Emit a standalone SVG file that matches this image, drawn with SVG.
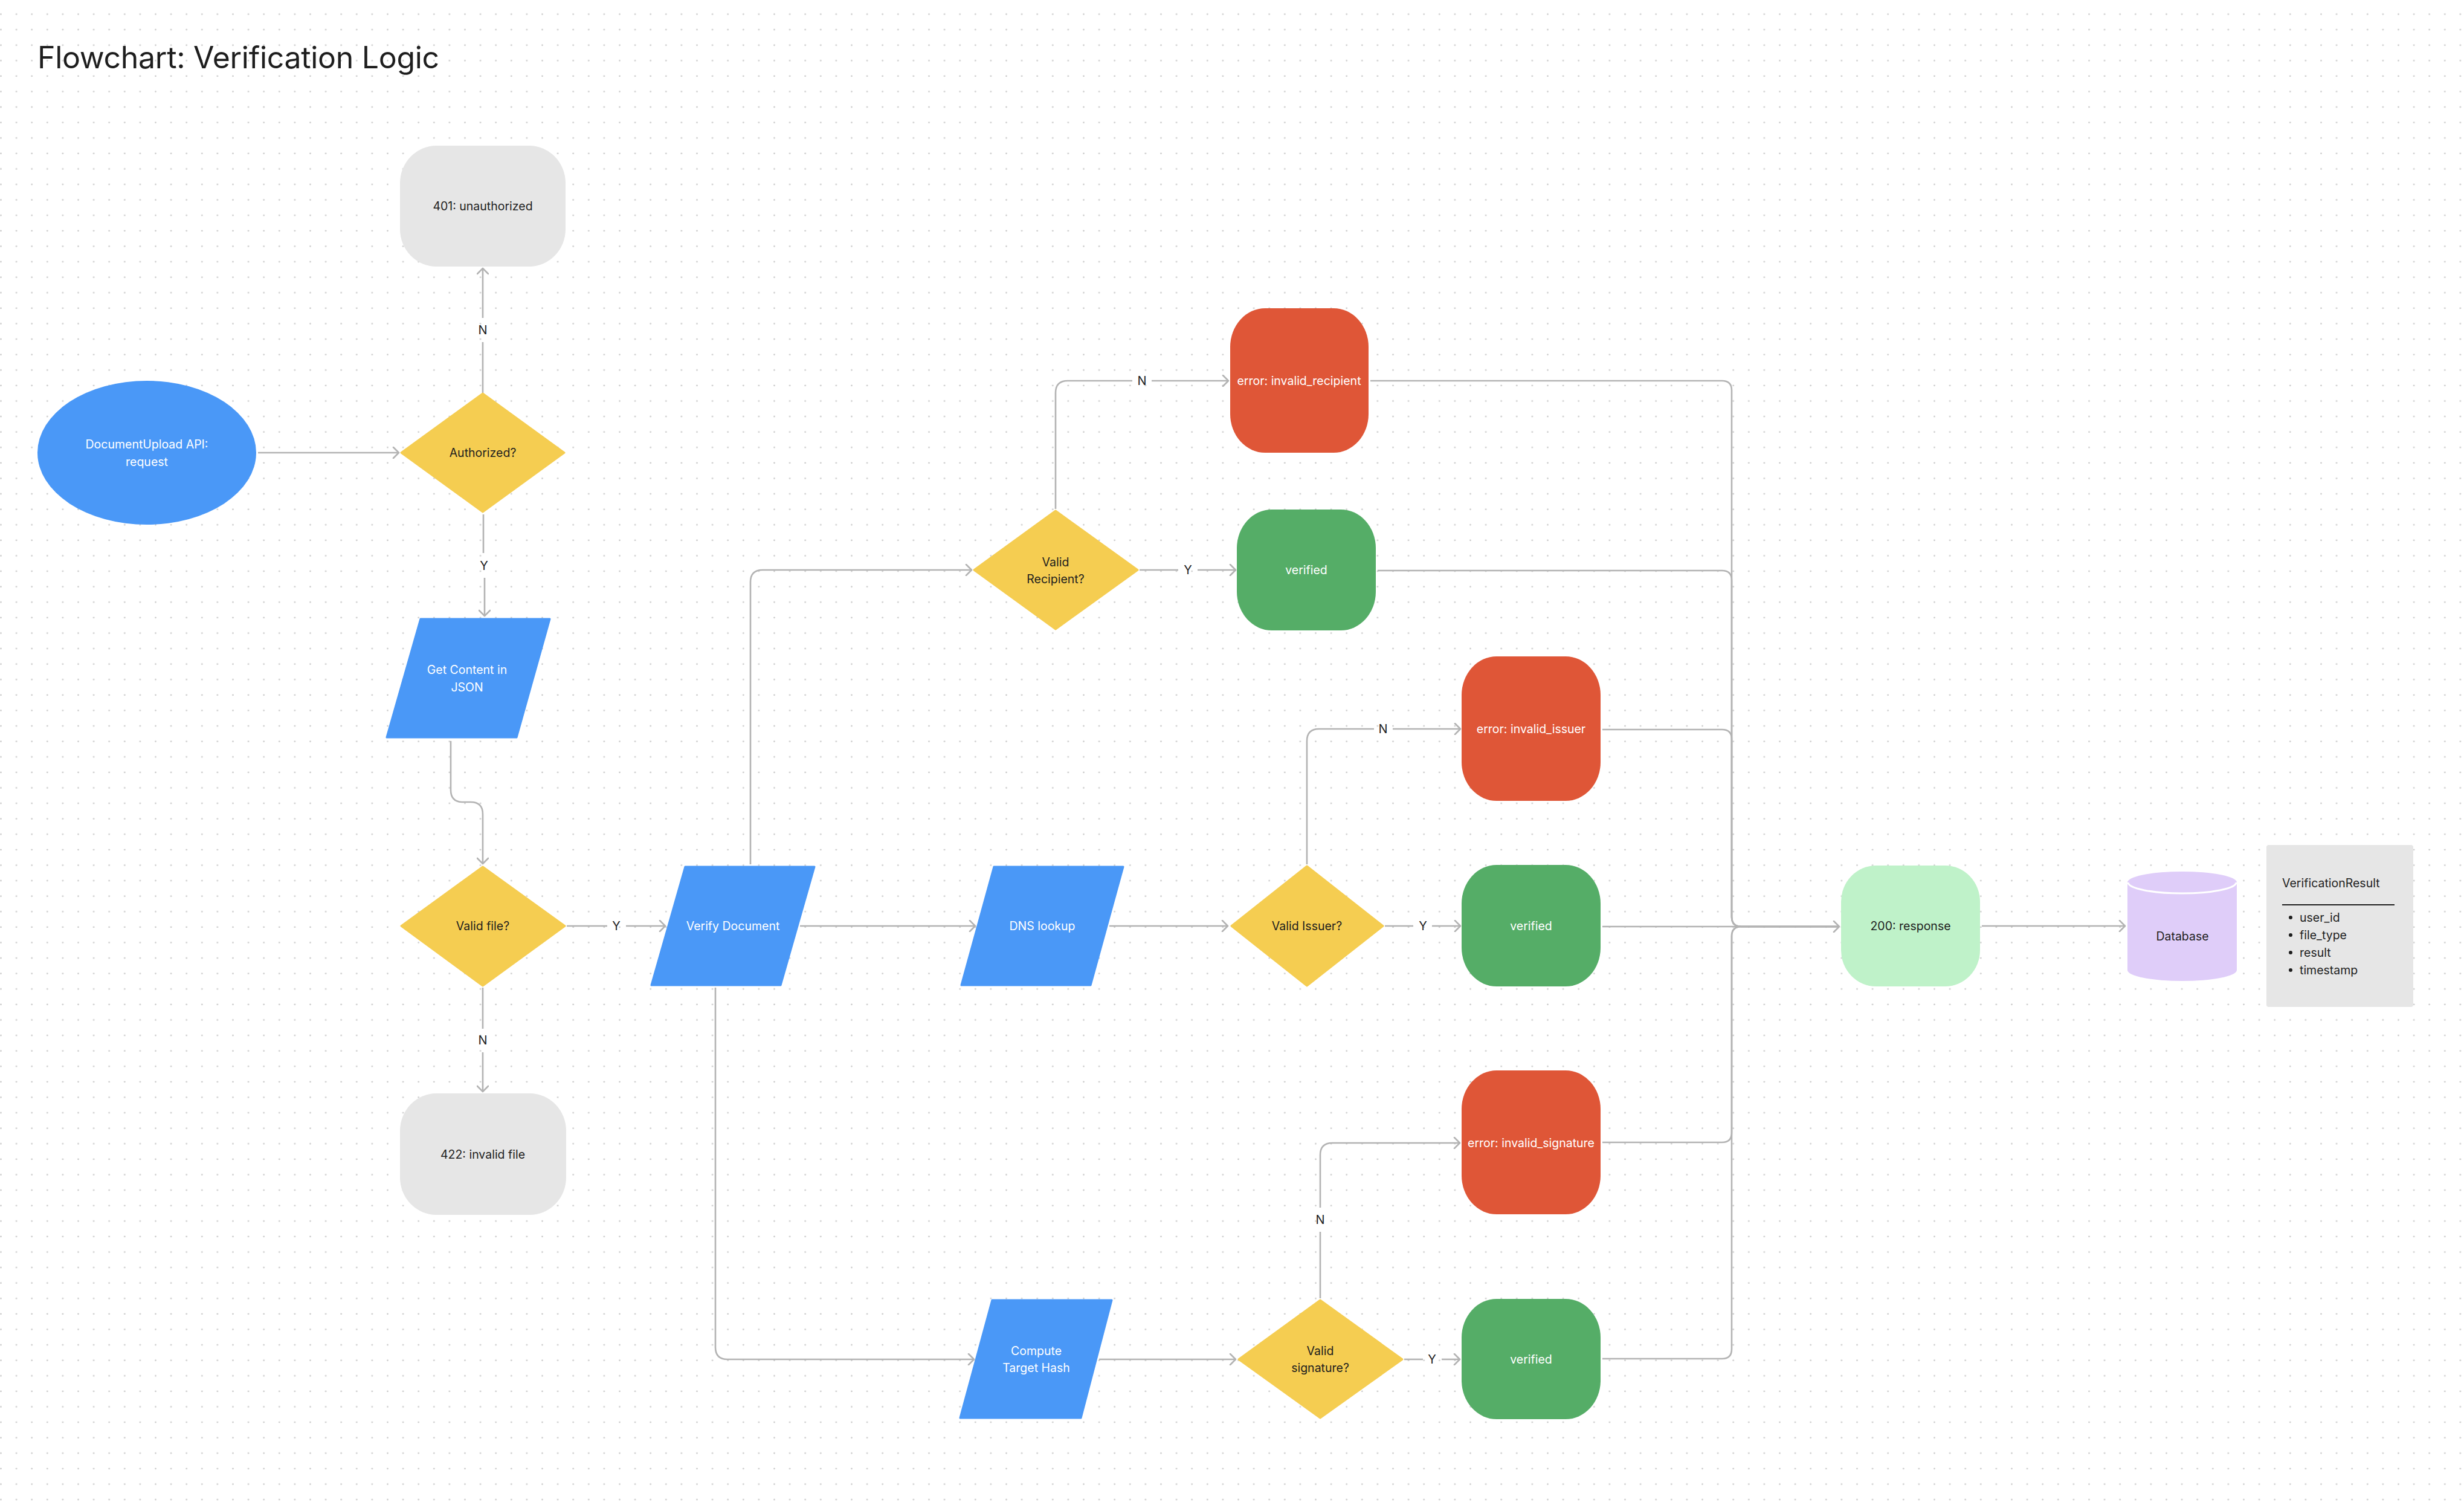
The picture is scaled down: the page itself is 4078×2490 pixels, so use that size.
<svg xmlns="http://www.w3.org/2000/svg" width="4078" height="2490" viewBox="0 0 4078 2490">
<defs>
<pattern id="dots" x="0" y="0" width="25.6" height="25.6" patternUnits="userSpaceOnUse">
<circle cx="1.5" cy="23.5" r="1.4" fill="#CACACA"/>
</pattern>
<marker id="arr" viewBox="0 0 20 20" refX="11" refY="10" markerWidth="20" markerHeight="20" markerUnits="userSpaceOnUse" orient="auto">
<path d="M2,1 L11,10 L2,19" fill="none" stroke="#B3B3B3" stroke-width="2.6" stroke-linecap="round" stroke-linejoin="round"/>
</marker>
<style>
.conn{fill:none;stroke:#B3B3B3;stroke-width:2.6}
.t{font-family:Inter,"Liberation Sans",sans-serif;font-size:19.5px;text-anchor:middle}
.dk{fill:#1E1E1E}
.wh{fill:#FFFFFF}
.lbl{font-family:Inter,"Liberation Sans",sans-serif;font-size:20px;text-anchor:middle;fill:#1E1E1E}
.blue{fill:#4A98F7;stroke:#4A98F7;stroke-width:3;stroke-linejoin:round}
.yel{fill:#F5CD51;stroke:#F5CD51;stroke-width:3;stroke-linejoin:round}
.red{fill:#DF5637}
.grn{fill:#55AD67}
.gry{fill:#E6E6E6}
.lgr{fill:#BFF2C9}
.pur{fill:#DFCDF9}
</style>
</defs>
<rect width="4078" height="2490" fill="#FFFFFF"/>
<rect width="4078" height="2490" fill="url(#dots)"/>

<text x="62" y="113" font-family="Inter,'Liberation Sans',sans-serif" font-size="50" fill="#1E1E1E" letter-spacing="-0.3">Flowchart: Verification Logic</text>

<g id="connectors">
<path class="conn" d="M427,749 H660" marker-end="url(#arr)"/>
<path class="conn" d="M799,650 V566"/>
<path class="conn" d="M799,526 V444" marker-end="url(#arr)"/>
<path class="conn" d="M800,851 V915"/>
<path class="conn" d="M802,956 V1019" marker-end="url(#arr)"/>
<path class="conn" d="M746,1226 V1307 Q746,1327 766,1327 H779 Q799,1327 799,1347 V1429" marker-end="url(#arr)"/>
<path class="conn" d="M799,1634 V1702"/>
<path class="conn" d="M799,1741 V1806" marker-end="url(#arr)"/>
<path class="conn" d="M938,1532 H1005"/>
<path class="conn" d="M1036,1532 H1101" marker-end="url(#arr)"/>
<path class="conn" d="M1324,1532 H1614" marker-end="url(#arr)"/>
<path class="conn" d="M1836,1532 H2032" marker-end="url(#arr)"/>
<path class="conn" d="M1242,1430 V963 Q1242,943 1262,943 H1608" marker-end="url(#arr)"/>
<path class="conn" d="M1184,1634 V2229 Q1184,2249 1204,2249 H1612" marker-end="url(#arr)"/>
<path class="conn" d="M1819,2249 H2045" marker-end="url(#arr)"/>
<path class="conn" d="M1747,842 V650 Q1747,630 1767,630 H1874"/>
<path class="conn" d="M1906,630 H2033" marker-end="url(#arr)"/>
<path class="conn" d="M1886,943 H1950"/>
<path class="conn" d="M1982,943 H2045" marker-end="url(#arr)"/>
<path class="conn" d="M2163,1430 V1226 Q2163,1206 2183,1206 H2274"/>
<path class="conn" d="M2305,1206 H2417" marker-end="url(#arr)"/>
<path class="conn" d="M2292,1532 H2339"/>
<path class="conn" d="M2370,1532 H2417" marker-end="url(#arr)"/>
<path class="conn" d="M2185,2148 V2038"/>
<path class="conn" d="M2185,1998 V1911 Q2185,1891 2205,1891 H2416" marker-end="url(#arr)"/>
<path class="conn" d="M2324,2249 H2355"/>
<path class="conn" d="M2386,2249 H2416" marker-end="url(#arr)"/>
<path class="conn" d="M2268,630 H2850 Q2866,630 2866,646 V1517 Q2866,1533 2882,1533 H3044"/>
<path class="conn" d="M2280,944 H2850 Q2866,944 2866,960 V1517 Q2866,1533 2882,1533 H3044"/>
<path class="conn" d="M2652,1207 H2850 Q2866,1207 2866,1223 V1517 Q2866,1533 2882,1533 H3044"/>
<path class="conn" d="M2652,1890 H2850 Q2866,1890 2866,1874 V1549 Q2866,1533 2882,1533 H3044"/>
<path class="conn" d="M2652,2248 H2850 Q2866,2248 2866,2232 V1549 Q2866,1533 2882,1533 H3044"/>
<path class="conn" d="M2652,1533 H3044" marker-end="url(#arr)"/>
<path class="conn" d="M3280,1532 H3517" marker-end="url(#arr)"/>
<text class="lbl" x="799" y="553">N</text>
<text class="lbl" x="801" y="943">Y</text>
<text class="lbl" x="799" y="1728">N</text>
<text class="lbl" x="1020" y="1539">Y</text>
<text class="lbl" x="1890" y="637">N</text>
<text class="lbl" x="1966" y="950">Y</text>
<text class="lbl" x="2289" y="1213">N</text>
<text class="lbl" x="2355" y="1539">Y</text>
<text class="lbl" x="2185" y="2025">N</text>
<text class="lbl" x="2370" y="2256">Y</text>
</g>

<g id="start">
<ellipse cx="243" cy="749" rx="181" ry="119" fill="#4A98F7"/>
<text class="t wh" x="243" y="742">DocumentUpload API:</text>
<text class="t wh" x="243" y="771">request</text>
</g>

<g id="authorized">
<polygon class="yel" points="799,651 934,749 799,847 664,749"/>
<text class="t dk" x="799" y="756">Authorized?</text>
</g>

<g id="unauthorized">
<rect class="gry" x="662" y="241" width="274" height="200" rx="60" ry="62"/>
<text class="t dk" x="799" y="348">401: unauthorized</text>
</g>

<g id="get-content">
<polygon class="blue" points="696,1024 910,1024 855,1220 640,1220"/>
<text class="t wh" x="773" y="1115">Get Content in</text>
<text class="t wh" x="773" y="1144">JSON</text>
</g>

<g id="valid-file">
<polygon class="yel" points="799,1434 935,1532 799,1631 664,1532"/>
<text class="t dk" x="799" y="1539">Valid file?</text>
</g>

<g id="invalid-file">
<rect class="gry" x="662" y="1809" width="275" height="201" rx="60" ry="62"/>
<text class="t dk" x="799" y="1917">422: invalid file</text>
</g>

<g id="verify-document">
<polygon class="blue" points="1134,1434 1348,1434 1292,1630 1078,1630"/>
<text class="t wh" x="1213" y="1539">Verify Document</text>
</g>

<g id="dns-lookup">
<polygon class="blue" points="1645,1434 1859,1434 1805,1630 1591,1630"/>
<text class="t wh" x="1725" y="1539">DNS lookup</text>
</g>

<g id="compute-hash">
<polygon class="blue" points="1642,2151 1840,2151 1789,2346 1589,2346"/>
<text class="t wh" x="1715" y="2242">Compute</text>
<text class="t wh" x="1715" y="2270">Target Hash</text>
</g>

<g id="valid-recipient">
<polygon class="yel" points="1747,845 1883,943 1747,1041 1612,943"/>
<text class="t dk" x="1747" y="937">Valid</text>
<text class="t dk" x="1747" y="965">Recipient?</text>
</g>

<g id="invalid-recipient">
<rect class="red" x="2036" y="510" width="229" height="239" rx="58" ry="64"/>
<text class="t wh" x="2150" y="637">error: invalid_recipient</text>
</g>

<g id="verified-recipient">
<rect class="grn" x="2047" y="843" width="230" height="200" rx="58" ry="64"/>
<text class="t wh" x="2162" y="950">verified</text>
</g>

<g id="valid-issuer">
<polygon class="yel" points="2163,1433 2289,1532 2163,1631 2038,1532"/>
<text class="t dk" x="2163" y="1539">Valid Issuer?</text>
</g>

<g id="invalid-issuer">
<rect class="red" x="2419" y="1086" width="230" height="239" rx="58" ry="64"/>
<text class="t wh" x="2534" y="1213">error: invalid_issuer</text>
</g>

<g id="verified-issuer">
<rect class="grn" x="2419" y="1431" width="230" height="201" rx="58" ry="64"/>
<text class="t wh" x="2534" y="1539">verified</text>
</g>

<g id="valid-signature">
<polygon class="yel" points="2185,2151 2321,2249 2185,2346 2050,2249"/>
<text class="t dk" x="2185" y="2242">Valid</text>
<text class="t dk" x="2185" y="2270">signature?</text>
</g>

<g id="invalid-signature">
<rect class="red" x="2419" y="1771" width="230" height="238" rx="58" ry="64"/>
<text class="t wh" x="2534" y="1898">error: invalid_signature</text>
</g>

<g id="verified-signature">
<rect class="grn" x="2419" y="2149" width="230" height="199" rx="58" ry="64"/>
<text class="t wh" x="2534" y="2256">verified</text>
</g>

<g id="response">
<rect class="lgr" x="3047" y="1432" width="230" height="200" rx="58" ry="60"/>
<text class="t dk" x="3162" y="1539">200: response</text>
</g>

<g id="database">
<path class="pur" d="M3521,1460 A90.5,18 0 0 1 3702,1460 V1605 A90.5,18 0 0 1 3521,1605 Z"/>
<path d="M3522,1460 A89.5,18 0 0 0 3701,1460" fill="none" stroke="#FFFFFF" stroke-width="3"/>
<text class="t dk" x="3612" y="1556">Database</text>
</g>

<g id="verification-result">
<rect class="gry" x="3751" y="1398" width="243" height="268" rx="4"/>
<text x="3777" y="1468" font-family="Inter,'Liberation Sans',sans-serif" font-size="19.5" fill="#1E1E1E">VerificationResult</text>
<line x1="3777" y1="1497" x2="3963" y2="1497" stroke="#1E1E1E" stroke-width="2.2"/>
<g font-family="Inter,'Liberation Sans',sans-serif" font-size="19.5" fill="#1E1E1E">
<circle cx="3791" cy="1518" r="3"/>
<text x="3806" y="1525">user_id</text>
<circle cx="3791" cy="1547" r="3"/>
<text x="3806" y="1554">file_type</text>
<circle cx="3791" cy="1576" r="3"/>
<text x="3806" y="1583">result</text>
<circle cx="3791" cy="1605" r="3"/>
<text x="3806" y="1612">timestamp</text>
</g>
</g>
</svg>
